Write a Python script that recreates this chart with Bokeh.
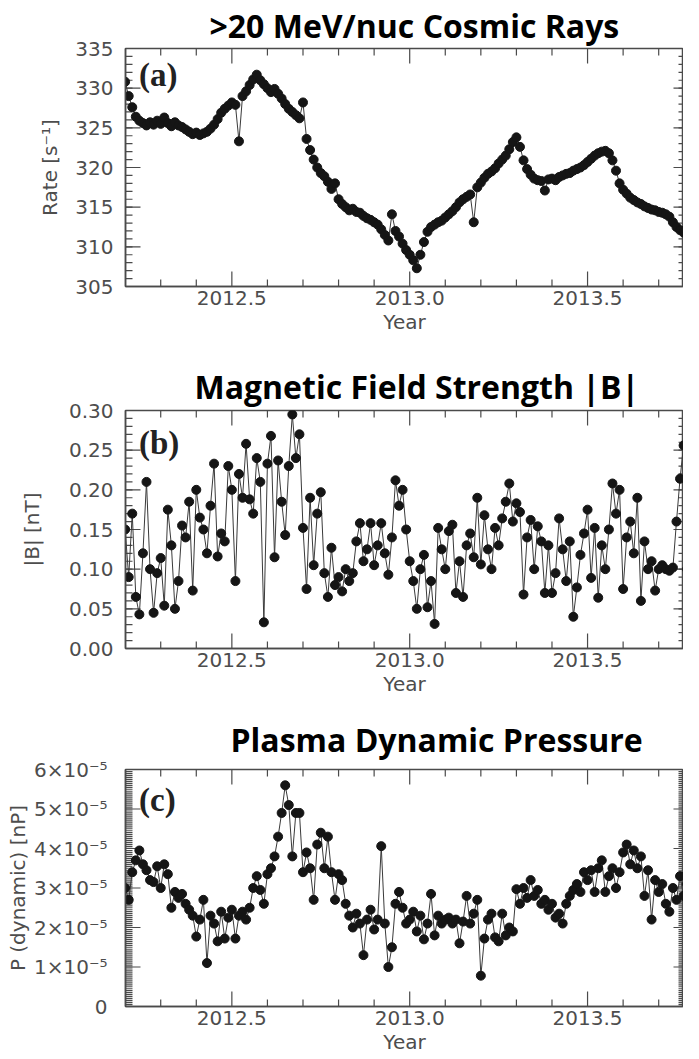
import numpy as np
from bokeh.plotting import figure
from bokeh.layouts import column
from bokeh.models import (Range1d, SingleIntervalTicker, LinearAxis,
                          PrintfTickFormatter, CustomJSTickFormatter, Label,
                          ColumnDataSource, BasicTickFormatter)
from bokeh.embed import file_html
from bokeh.resources import INLINE

# ---------------- data ----------------
YEAR_START = 2012.20
YEAR_STEP = 0.01

rate = [
    330.8, 329.0, 327.6, 326.4, 325.9, 325.6, 325.3, 325.7, 325.4, 325.9,
    325.5, 326.3, 325.6, 325.2, 325.7, 325.3, 325.1, 324.8, 324.5, 324.2,
    324.4, 324.1, 324.3, 324.5, 324.9, 325.4, 326.1, 326.9, 327.4, 327.8,
    328.2, 327.9, 323.3, 329.0, 329.6, 330.4, 331.1, 331.7, 331.0, 330.5,
    330.0, 329.5, 329.9, 329.3, 328.7, 328.0, 327.4, 327.0, 326.6, 326.2,
    328.2, 323.6, 322.2, 321.0, 320.0, 319.3, 318.9, 318.2, 317.3, 318.0,
    316.0, 315.4, 315.0, 314.6, 314.8, 314.4, 314.3, 313.9, 313.6, 313.4,
    313.1, 312.8, 312.2, 311.5, 310.8, 314.1, 312.0, 311.3, 310.4, 309.6,
    309.0, 308.3, 307.3, 309.0, 310.6, 311.9, 312.5, 312.8, 313.1, 313.3,
    313.7, 314.1, 314.5, 315.0, 315.6, 316.0, 316.3, 316.6, 313.1, 317.5,
    318.1, 318.7, 319.2, 319.5, 319.9, 320.5, 321.0, 321.5, 322.3, 323.2,
    323.8, 322.6, 320.9, 319.8, 319.1, 318.6, 318.4, 318.3, 317.1, 318.5,
    318.6, 318.4, 318.8, 319.0, 319.2, 319.3, 319.6, 319.8, 320.0, 320.3,
    320.7, 321.1, 321.5, 321.8, 322.0, 322.1, 321.8, 320.9, 319.6, 318.0,
    317.2, 316.7, 316.2, 315.9, 315.6, 315.4, 315.1, 314.9, 314.7, 314.6,
    314.4, 314.3, 314.1, 313.8, 313.1, 312.5, 312.1, 311.8, 311.6,
]

b_field = [
    0.150, 0.090, 0.170, 0.065, 0.043, 0.120, 0.210, 0.100, 0.045, 0.095,
    0.114, 0.054, 0.175, 0.130, 0.050, 0.085, 0.155, 0.140, 0.185, 0.073,
    0.200, 0.165, 0.150, 0.120, 0.180, 0.233, 0.116, 0.145, 0.135, 0.230,
    0.200, 0.085, 0.220, 0.190, 0.258, 0.188, 0.170, 0.240, 0.210, 0.033,
    0.233, 0.268, 0.115, 0.237, 0.185, 0.143, 0.230, 0.295, 0.240, 0.270,
    0.152, 0.075, 0.190, 0.105, 0.170, 0.197, 0.095, 0.065, 0.127, 0.080,
    0.090, 0.072, 0.100, 0.085, 0.095, 0.135, 0.158, 0.110, 0.125, 0.158,
    0.105, 0.130, 0.158, 0.120, 0.093, 0.140, 0.212, 0.180, 0.200, 0.150,
    0.110, 0.085, 0.050, 0.100, 0.118, 0.052, 0.085, 0.031, 0.152, 0.125,
    0.100, 0.148, 0.156, 0.070, 0.110, 0.065, 0.130, 0.145, 0.115, 0.190,
    0.106, 0.168, 0.125, 0.100, 0.152, 0.130, 0.164, 0.185, 0.208, 0.160,
    0.183, 0.172, 0.068, 0.140, 0.162, 0.100, 0.154, 0.135, 0.070, 0.130,
    0.070, 0.095, 0.164, 0.125, 0.085, 0.135, 0.040, 0.077, 0.118, 0.145,
    0.175, 0.089, 0.152, 0.064, 0.130, 0.100, 0.150, 0.208, 0.170, 0.200,
    0.075, 0.140, 0.160, 0.120, 0.190, 0.060, 0.135, 0.100, 0.110, 0.073,
    0.100, 0.105, 0.100, 0.098, 0.102, 0.160, 0.214, 0.256, 0.100,
]

# dynamic pressure in units of 1e-5 nP
p_dyn_e5 = [
    3.00, 2.70, 3.40, 3.70, 3.95, 3.60, 3.45, 3.20, 3.15, 3.55,
    3.00, 3.60, 3.35, 2.50, 2.90, 2.75, 2.85, 2.60, 2.45, 2.30,
    1.77, 2.20, 2.70, 1.10, 2.30, 2.10, 1.65, 2.40, 1.72, 2.25,
    2.45, 1.72, 2.30, 2.40, 2.20, 2.50, 3.00, 3.30, 2.95, 2.60,
    3.35, 3.50, 3.80, 4.30, 4.90, 5.60, 5.10, 3.80, 4.90, 4.90,
    3.40, 3.90, 3.50, 2.70, 4.10, 4.40, 3.50, 4.30, 3.40, 2.70,
    3.35, 3.20, 2.60, 2.30, 2.00, 2.35, 2.10, 1.30, 2.20, 2.45,
    1.95, 2.20, 4.06, 2.10, 1.00, 1.50, 2.60, 2.90, 2.50, 2.10,
    2.20, 2.40, 1.90, 2.30, 1.70, 2.10, 2.85, 1.80, 2.30, 2.10,
    2.20, 2.25, 2.10, 2.20, 1.60, 2.15, 2.80, 2.10, 2.35, 2.70,
    0.78, 1.72, 2.20, 2.35, 1.75, 1.65, 2.35, 1.80, 2.00, 1.90,
    2.97, 2.60, 3.00, 2.75, 3.20, 2.80, 2.95, 2.60, 2.70, 2.45,
    2.60, 2.25, 2.35, 2.10, 2.60, 2.80, 2.95, 3.10, 2.90, 3.40,
    3.20, 3.45, 2.90, 3.50, 3.70, 2.90, 3.30, 3.50, 3.00, 3.40,
    3.90, 4.10, 3.60, 3.95, 3.50, 3.80, 2.80, 3.45, 2.20, 3.20,
    2.90, 3.10, 2.60, 2.40, 3.00, 2.70, 3.30, 2.80, 3.10,
]

titles = [">20 MeV/nuc Cosmic Rays", "Magnetic Field Strength |B|",
          "Plasma Dynamic Pressure"]
panel_tags = ["(a)", "(b)", "(c)"]
y_labels = ["Rate [s\u207b\u00b9]", "|B| [nT]", "P (dynamic) [nP]"]
x_label = "Year"

# axis tick positions (year)
x_major_ticks = [2012.5, 2013.0, 2013.5]
x_minor_ticks = [2012.3, 2012.4, 2012.6, 2012.7, 2012.8, 2012.9,
                 2013.1, 2013.2, 2013.3, 2013.4, 2013.6, 2013.7]

# ---------------- styling ----------------
TICK_FONT = "DejaVu Sans"
AXIS_GRAY = "#4a4a4a"
TEXT_GRAY = "#4d4d4d"
X_START = 2012.201
PX_PER_YEAR = 355.7
W = 683
LEFT = 125
FRAME_W = W - LEFT
TICK_W = 1.2   # px


def style_axis(ax):
    ax.major_tick_in = 0
    ax.major_tick_out = 0
    ax.minor_tick_in = 0
    ax.minor_tick_out = 0
    ax.axis_line_color = AXIS_GRAY
    ax.axis_line_width = 1.5
    ax.major_label_text_font = TICK_FONT
    ax.major_label_text_color = TEXT_GRAY
    ax.major_label_text_font_size = "20px"
    ax.axis_label_text_font = TICK_FONT
    ax.axis_label_text_color = TEXT_GRAY
    ax.axis_label_text_font_style = "normal"
    ax.axis_label_text_font_size = "20px"


def make_panel(values, scale, y_start, y_end, y_interval, y_minor_step, y_fmt,
               idx, title_offset, title_standoff, tag_y, height, b_top, b_bottom,
               y_label_standoff, y_tick_standoff):
    xs = YEAR_START + YEAR_STEP * np.arange(len(values))
    ys = np.asarray(values, dtype=float) * scale
    src = ColumnDataSource(dict(x=xs, y=ys))
    x_end = X_START + FRAME_W / PX_PER_YEAR
    p = figure(width=W, height=height, output_backend="svg", toolbar_location=None,
               x_range=Range1d(X_START, x_end),
               y_range=Range1d(y_start, y_end + (y_end - y_start) * 1e-5),
               min_border_left=LEFT, min_border_right=0,
               min_border_top=b_top, min_border_bottom=b_bottom,
               x_axis_type=None, y_axis_type=None)
    p.xgrid.visible = False
    p.ygrid.visible = False
    p.outline_line_color = AXIS_GRAY
    p.outline_line_width = 1.5
    p.background_fill_color = "white"
    p.border_fill_color = "white"

    p.title.text = titles[idx]
    p.title.align = "left"
    p.title.offset = title_offset
    p.title.standoff = title_standoff
    p.title.text_font = "Open Sans"
    p.title.text_font_size = "32px"
    p.title.text_font_style = "bold"
    p.title.text_color = "black"

    xb = LinearAxis(ticker=SingleIntervalTicker(interval=0.5, num_minor_ticks=5),
                    formatter=PrintfTickFormatter(format="%.1f"), axis_label=x_label)
    style_axis(xb)
    xb.major_label_standoff = 4
    xb.axis_label_standoff = 2
    p.add_layout(xb, "below")

    yl = LinearAxis(ticker=SingleIntervalTicker(interval=y_interval, num_minor_ticks=5),
                    formatter=y_fmt, axis_label=y_labels[idx])
    style_axis(yl)
    yl.major_label_standoff = y_tick_standoff
    yl.axis_label_standoff = y_label_standoff
    p.add_layout(yl, "left")

    # inward tick marks on all four sides, drawn as thin filled bars in the frame
    frame_h = height - b_top - b_bottom
    dx = (x_end - X_START) / FRAME_W
    dy = (y_end - y_start) / frame_h
    hw_x = 0.5 * TICK_W * dx
    hw_y = 0.5 * TICK_W * dy
    y_major = np.arange(y_start, y_end + y_interval * 0.5, y_interval)
    y_minor = np.arange(y_start, y_end + y_minor_step * 0.5, y_minor_step)
    L, R, B, T = [], [], [], []
    for xt, ln in ((x_major_ticks, 15), (x_minor_ticks, 7)):
        for x in xt:
            L += [x - hw_x, x - hw_x]
            R += [x + hw_x, x + hw_x]
            B += [y_start, y_end - ln * dy]
            T += [y_start + ln * dy, y_end]
    for yt, ln, rl in ((y_major, 15, 10), (y_minor, 7, 5)):
        for y in yt:
            L += [X_START, x_end - rl * dx]
            R += [X_START + ln * dx, x_end]
            B += [y - hw_y, y - hw_y]
            T += [y + hw_y, y + hw_y]
    p.quad(left=L, right=R, bottom=B, top=T, fill_color=AXIS_GRAY,
           line_color=None)

    p.line("x", "y", source=src, line_color="#3a3a3a", line_width=1)
    p.scatter("x", "y", source=src, marker="circle", size=9,
              fill_color="#151515", line_color="#151515")

    p.add_layout(Label(x=2012.239, y=tag_y, text=panel_tags[idx],
                       text_font="Liberation Serif", text_font_style="bold",
                       text_font_size="33px", text_baseline="middle",
                       text_color="#222222"))
    return p


pdyn_fmt = CustomJSTickFormatter(code="""
    const n = Math.round(tick * 1e5);
    if (n === 0) { return "0"; }
    return n + "\u00d710\u207b\u2075";
""")

pa = make_panel(rate, 1.0, 305, 335, 5, 1, BasicTickFormatter(),
                0, 84, 3, 331.7, 345, 47, 59, 10, 12)
pb = make_panel(b_field, 1.0, 0.0, 0.30, 0.05, 0.01, PrintfTickFormatter(format="%.2f"),
                1, 69, 6, 0.259, 360, 65, 57, 22, 12)
pc = make_panel(p_dyn_e5, 1e-5, 0.0, 6e-5, 1e-5, 0.05e-5, pdyn_fmt,
                2, 105, 17, 5.24e-5, 354, 64, 53, 1, 18)

layout = column(pa, pb, pc)
open("out.html", "w").write(file_html(layout, INLINE))
